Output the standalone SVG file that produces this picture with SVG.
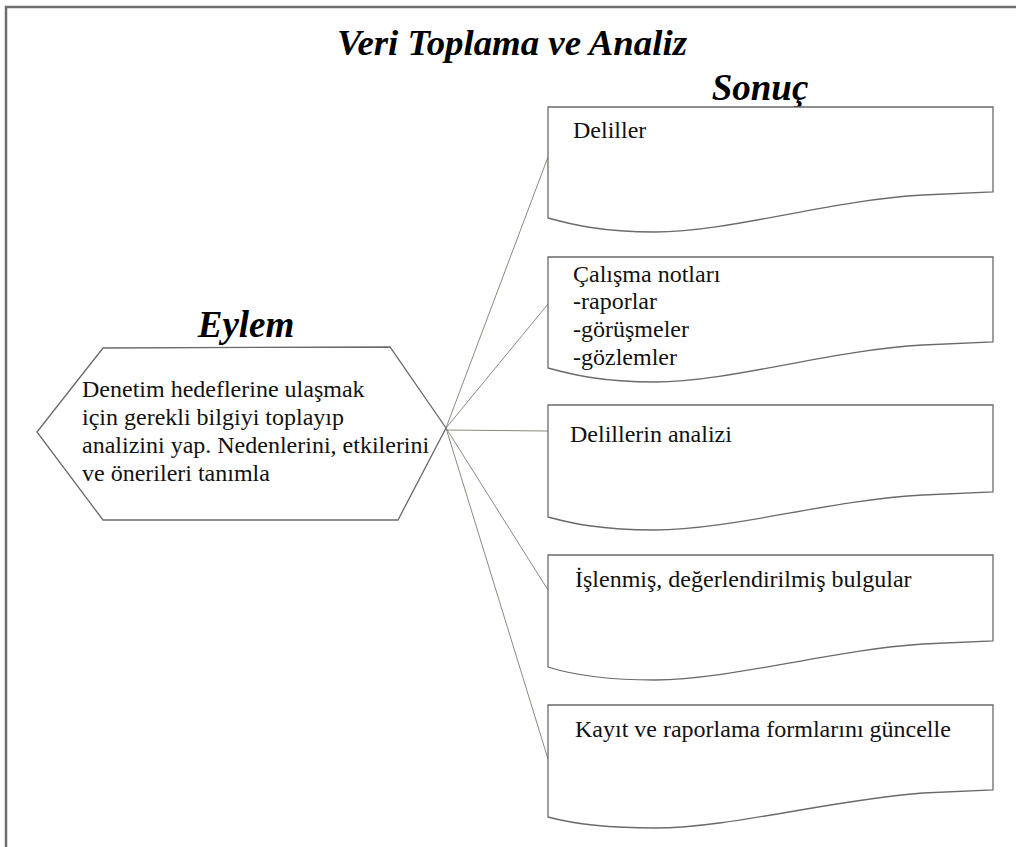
<svg xmlns="http://www.w3.org/2000/svg" width="1016" height="847" viewBox="0 0 1016 847">
<style>
.frame{fill:none;stroke:#6e6e6e;stroke-width:2.5}
.shape{fill:#fff;stroke:#6a6a6a;stroke-width:1.3}
.conn{fill:none;stroke:#8a8a80;stroke-width:1}
.head{font-family:"Liberation Serif","Times New Roman",serif;font-weight:bold;font-style:italic;fill:#000}
.t{font-family:"Liberation Serif","Times New Roman",serif;font-size:24px;fill:#111}
</style>
<rect width="1016" height="847" fill="#fff"/>
<path class="frame" d="M6,847 V7 H1016"/>
<text class="head" x="512" y="55" font-size="36" text-anchor="middle" textLength="350" lengthAdjust="spacingAndGlyphs">Veri Toplama ve Analiz</text>
<text class="head" x="760" y="100" font-size="37" text-anchor="middle">Sonuç</text>
<text class="head" x="246" y="337" font-size="37" text-anchor="middle">Eylem</text>
<g id="connectors">
<line class="conn" x1="446" y1="428" x2="548" y2="157"/>
<line class="conn" x1="446" y1="428" x2="548" y2="304"/>
<line class="conn" x1="446" y1="430" x2="548" y2="431"/>
<line class="conn" x1="446" y1="428" x2="548" y2="590"/>
<line class="conn" x1="446" y1="428" x2="548" y2="759"/>
</g>
<g id="action">
<polygon class="shape" points="37,432 103,348 390,347 446,428 398,520 103,520"/>
<text class="t" x="82" y="397">Denetim hedeflerine ulaşmak</text>
<text class="t" x="82" y="425">için gerekli bilgiyi toplayıp</text>
<text class="t" x="82" y="453">analizini yap. Nedenlerini, etkilerini</text>
<text class="t" x="82" y="481">ve önerileri tanımla</text>
</g>
<g id="doc1">
<path class="shape" d="M548,107 H993 V192 L923,195 C830,200 730,232 655,232 C600,232 570,224 548,218 Z"/>
<text class="t" x="573" y="138">Deliller</text>
</g>
<g id="doc2">
<path class="shape" d="M548,257 H993 V342 L923,345 C830,350 730,382 655,382 C600,382 570,374 548,368 Z"/>
<text class="t" x="573" y="282">Çalışma notları</text>
<text class="t" x="573" y="309">-raporlar</text>
<text class="t" x="573" y="337">-görüşmeler</text>
<text class="t" x="573" y="365">-gözlemler</text>
</g>
<g id="doc3">
<path class="shape" d="M548,405 H993 V492 L923,495 C830,500 730,530 655,530 C600,530 570,523 548,517 Z"/>
<text class="t" x="570" y="442">Delillerin analizi</text>
</g>
<g id="doc4">
<path class="shape" d="M548,555 H993 V641 L923,644 C830,650 730,680 655,680 C600,680 570,674 548,667 Z"/>
<text class="t" x="575" y="587">İşlenmiş, değerlendirilmiş bulgular</text>
</g>
<g id="doc5">
<path class="shape" d="M548,705 H993 V790 L923,793 C830,800 730,828 655,828 C600,828 570,823 548,817 Z"/>
<text class="t" x="575" y="737">Kayıt ve raporlama formlarını güncelle</text>
</g>
</svg>
